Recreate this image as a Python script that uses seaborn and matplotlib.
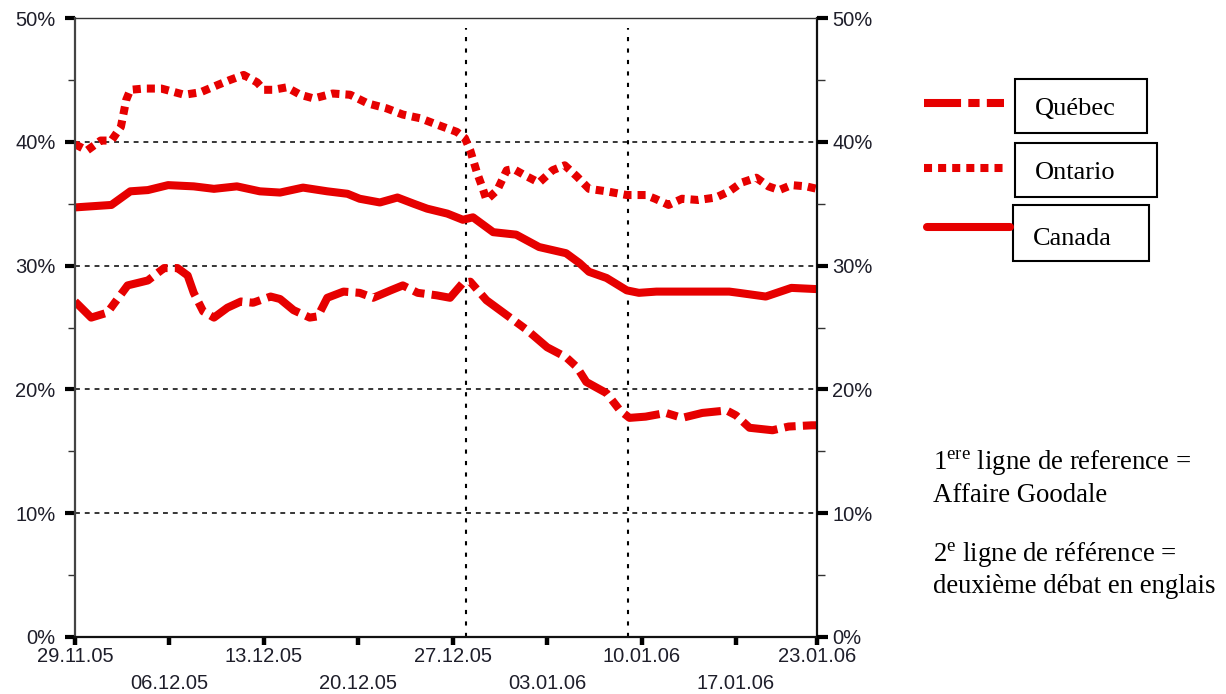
import numpy as np
import pandas as pd
import matplotlib
matplotlib.use("Agg")
import matplotlib.pyplot as plt
from matplotlib.lines import Line2D
from matplotlib.patches import Rectangle
import seaborn as sns

sns.set_theme(style="white")
plt.rcParams['font.family'] = ['Liberation Sans', 'DejaVu Sans']
plt.rcParams['mathtext.fontset'] = 'custom'
plt.rcParams['mathtext.rm'] = 'Liberation Serif'

# ---- data (days since 29.11.05, share of vote in %) ----
start = pd.Timestamp('2005-11-29')

quebec_days = [0, 1.2, 2.4, 3.9, 5.4, 6.6, 7.6, 8.35, 8.8, 9.5, 10.3, 11.3, 12.3, 13.2,
               14.5, 15.2, 16.2, 17.4, 18.0, 18.7, 19.9, 21.1, 22.1, 23.4, 24.3, 25.4,
               26.8, 27.8, 28.75, 29.3, 30.5, 32.0, 33.5, 35.0, 36.4, 37.2, 37.9, 39.4,
               40.4, 41.1, 42.3, 43.8, 45.0, 46.5, 48.3, 49.0, 50.0, 51.7, 52.9, 54.6, 55]
quebec_vals = [27.1, 25.8, 26.2, 28.4, 28.8, 29.8, 29.8, 29.2, 27.8, 26.3, 25.8, 26.6, 27.1, 27.0,
               27.5, 27.3, 26.4, 25.8, 25.9, 27.4, 27.9, 27.8, 27.4, 28.0, 28.4, 27.8,
               27.6, 27.4, 28.6, 28.7, 27.2, 26.0, 24.8, 23.4, 22.6, 21.8, 20.6, 19.7,
               18.3, 17.7, 17.8, 18.1, 17.7, 18.1, 18.3, 17.9, 16.9, 16.7, 17.0, 17.1, 17.1]

ontario_days = [0, 0.9, 1.9, 2.7, 3.4, 3.8, 4.1, 5.1, 6.4, 8.1, 9.3, 10.6, 11.5, 12.5, 13.5,
                14.0, 14.7, 15.7, 16.7, 17.7, 19.1, 20.4, 21.7, 23.1, 24.3, 25.6, 26.8, 28.3,
                28.9, 29.3, 29.8, 30.2, 30.5, 31.3, 32.0, 32.5, 33.5, 34.4, 35.4, 36.3, 37.2,
                38.1, 39.4, 40.9, 42.3, 43.0, 44.0, 45.0, 46.2, 47.5, 48.5, 49.4, 50.5, 51.4,
                52.2, 53.1, 54.2, 55]
ontario_vals = [39.8, 39.3, 40.1, 40.1, 41.2, 43.4, 44.2, 44.3, 44.3, 43.8, 44.0, 44.6, 45.0, 45.4, 44.8,
                44.2, 44.2, 44.4, 43.8, 43.5, 43.9, 43.8, 43.1, 42.7, 42.2, 41.9, 41.4, 40.8,
                40.3, 39.3, 37.5, 36.3, 35.3, 36.1, 37.7, 37.8, 37.2, 36.7, 37.7, 38.1, 37.2,
                36.2, 36.0, 35.7, 35.7, 35.4, 34.9, 35.4, 35.3, 35.5, 36.0, 36.7, 37.1, 36.4,
                36.1, 36.5, 36.4, 36.2]

canada_days = [0, 2.7, 4.1, 5.4, 6.9, 8.8, 10.3, 12.0, 13.7, 15.2, 16.9, 18.7, 20.2, 21.1,
               22.6, 23.9, 25.1, 26.1, 27.6, 28.75, 29.5, 31.0, 32.7, 34.4, 36.4, 37.4, 38.1,
               39.4, 40.9, 41.8, 43.1, 48.5, 49.2, 51.2, 53.1, 55]
canada_vals = [34.7, 34.9, 36.0, 36.1, 36.5, 36.4, 36.2, 36.4, 36.0, 35.9, 36.3, 36.0, 35.8, 35.4,
               35.1, 35.5, 35.0, 34.6, 34.2, 33.7, 33.9, 32.7, 32.5, 31.5, 31.0, 30.2, 29.5,
               29.0, 28.0, 27.8, 27.9, 27.9, 27.8, 27.5, 28.2, 28.1]

regions = ['Québec', 'Ontario', 'Canada']
tick_dates = ['2005-11-29', '2005-12-06', '2005-12-13', '2005-12-20', '2005-12-27',
              '2006-01-03', '2006-01-10', '2006-01-17', '2006-01-23']
tick_labels = ['29.11.05', '06.12.05', '13.12.05', '20.12.05', '27.12.05',
               '03.01.06', '10.01.06', '17.01.06', '23.01.06']
ref_dates = ['2005-12-28', '2006-01-09']
y_ticks = [0, 10, 20, 30, 40, 50]

frames = []
for name, d, v in [('Québec', quebec_days, quebec_vals),
                   ('Ontario', ontario_days, ontario_vals),
                   ('Canada', canada_days, canada_vals)]:
    frames.append(pd.DataFrame({'date': start + pd.to_timedelta(d, unit='D'),
                                'value': v, 'region': name}))
df = pd.concat(frames, ignore_index=True)

red = '#e60000'
LW = 5.8
dash_map = {'Québec': (4.6, 0.9, 1.4, 0.9), 'Ontario': (1.0, 0.75), 'Canada': ''}

fig = plt.figure(figsize=(12.26, 6.94), dpi=100)
W, H = 1226, 694
ax = fig.add_axes([75 / W, 1 - 637 / H, (817 - 75) / W, (637 - 18) / H])

sns.lineplot(data=df, x='date', y='value', hue='region', style='region',
             palette={r: red for r in regions}, dashes=dash_map, hue_order=regions,
             style_order=regions, lw=LW, legend=False, ax=ax, sort=False)
for ln in ax.get_lines():
    ln.set_solid_capstyle('round')
    ln.set_solid_joinstyle('round')

x0 = pd.Timestamp(tick_dates[0])
x1 = pd.Timestamp(tick_dates[-1])
ax.set_xlim(x0, x1)
ax.set_ylim(0, 50)

# grid and reference lines
for v in y_ticks[1:-1]:
    ax.axhline(v, color='black', lw=1.1, ls=(0, (3.2, 3.2)), zorder=0)
for d in ref_dates:
    ax.axvline(pd.Timestamp(d), ymin=0, ymax=(637 - 28) / (637 - 18), color='black',
               lw=1.5, ls=(0, (2, 3.5)), zorder=0)

# axes styling
for s, c, w in [('left', '#444444', 1.6), ('right', '#111111', 1.6),
                ('top', '#333333', 1.0), ('bottom', '#111111', 1.6)]:
    ax.spines[s].set_color(c)
    ax.spines[s].set_linewidth(w)
    ax.spines[s].set_visible(True)

ax.set_xlabel('')
ax.set_ylabel('')
tick_color = '#1e1e2a'
ax.set_xticks([pd.Timestamp(t) for t in tick_dates])
ax.set_xticklabels([lab if i % 2 == 0 else '\n' + lab for i, lab in enumerate(tick_labels)],
                   fontsize=14.5, color=tick_color)
for lbl in ax.get_xticklabels():
    lbl.set_linespacing(1.55)
ax.tick_params(axis='x', which='major', direction='out', length=5.5, width=3.2,
               color='black', pad=1.5, bottom=True)

ax.set_yticks(y_ticks)
ax.set_yticklabels([f'{v}%' for v in y_ticks], fontsize=14.5, color=tick_color)
ax.set_yticks([5, 15, 25, 35, 45], minor=True)
ax.tick_params(axis='y', which='major', direction='out', length=7, width=3,
               color='black', pad=7, left=True)
ax.tick_params(axis='y', which='minor', direction='out', length=5, width=1,
               color='#333333', left=True)

ax2 = ax.twinx()
ax2.set_ylim(0, 50)
ax2.set_yticks(y_ticks)
ax2.set_yticklabels([f'{v}%' for v in y_ticks], fontsize=14.5, color=tick_color)
ax2.set_yticks([5, 15, 25, 35, 45], minor=True)
ax2.tick_params(axis='y', which='major', direction='out', length=8, width=3,
                color='black', pad=3, right=True)
ax2.tick_params(axis='y', which='minor', direction='out', length=6, width=1,
                color='#333333', right=True)
ax2.grid(False)
for s in ax2.spines.values():
    s.set_visible(False)

# custom legend with boxed labels
def fx(px):
    return px / W

def fy(py):
    return 1 - py / H

leg = [('Québec', 103, 924, 1004, (1015, 79, 1147, 133), 1035, 115),
       ('Ontario', 168, 924, 1004, (1015, 143, 1157, 197), 1035, 179),
       ('Canada', 227, 927, 1010, (1013, 205, 1149, 261), 1033, 245)]
for name, ly, lx0, lx1, box, tx, ty in leg:
    ln = Line2D([fx(lx0), fx(lx1)], [fy(ly), fy(ly)], transform=fig.transFigure,
                color=red, lw=LW, solid_capstyle='round', dash_capstyle='butt')
    if dash_map[name]:
        ln.set_dashes(dash_map[name])
    fig.add_artist(ln)
    bx0, by0, bx1, by1 = box
    fig.add_artist(Rectangle((fx(bx0), fy(by1)), fx(bx1 - bx0), (by1 - by0) / H,
                             transform=fig.transFigure, fill=False, ec='black', lw=1.5))
    fig.text(fx(tx), fy(ty), name, family='Liberation Serif', fontsize=19,
             color='black', va='baseline', ha='left')

notes = [(470, r'1$^{\mathrm{ere}}$ ligne de reference ='),
         (502, 'Affaire Goodale'),
         (562, r'2$^{\mathrm{e}}$ ligne de référence ='),
         (593, 'deuxième débat en englais')]
for ny, txt in notes:
    fig.text(fx(933), fy(ny), txt, family='Liberation Serif', fontsize=19.3,
             color='black', va='baseline', ha='left')

fig.savefig('out.png', dpi=100)
